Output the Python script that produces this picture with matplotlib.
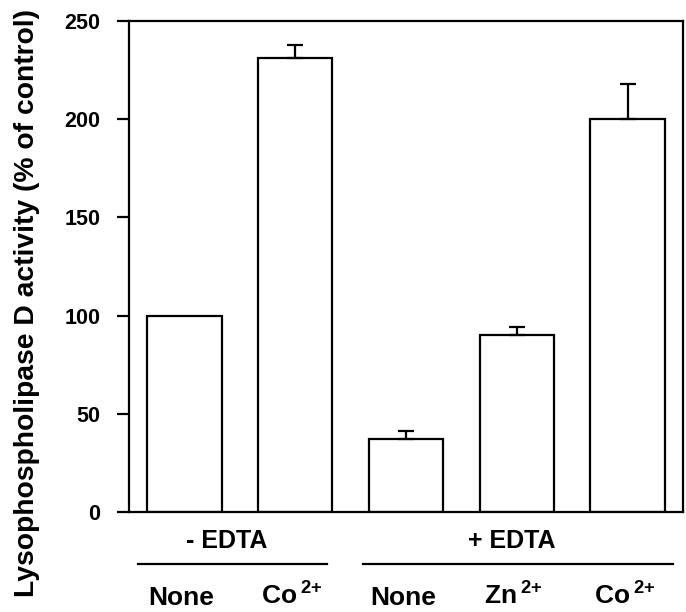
import matplotlib
matplotlib.use("Agg")
import matplotlib.pyplot as plt
from matplotlib.lines import Line2D

plt.rcParams['font.family'] = ['Liberation Sans', 'DejaVu Sans']
plt.rcParams['font.weight'] = 'bold'
plt.rcParams['mathtext.fontset'] = 'custom'
plt.rcParams['mathtext.rm'] = 'Liberation Sans:bold'
plt.rcParams['mathtext.it'] = 'Liberation Sans:bold'
plt.rcParams['mathtext.bf'] = 'Liberation Sans:bold'
plt.rcParams['mathtext.default'] = 'rm'

categories = ["None", r"Co$\,^{2{+}}$", "None", r"Zn$\,^{2{+}}$", r"Co$\,^{2{+}}$"]
values = [100, 231, 37, 90, 200]
errors = [0, 7, 4, 4, 18]
groups = ["- EDTA", "+ EDTA"]
yticks = [0, 50, 100, 150, 200, 250]

fig = plt.figure(figsize=(6.86, 6.12), dpi=100)
ax = fig.add_axes([129/686, 1 - 512/612, (683-129)/686, (512-21)/612])

x = list(range(len(values)))
ax.bar(x, values, width=0.67, facecolor='white', edgecolor='black', linewidth=1.6, zorder=2)
ex = [xi for xi, e in zip(x, errors) if e > 0]
ev = [v for v, e in zip(values, errors) if e > 0]
ee = [e for e in errors if e > 0]
ax.errorbar(ex, ev, yerr=[[0]*len(ee), ee], fmt='none', ecolor='black',
            elinewidth=1.6, capsize=6, capthick=1.6, zorder=3)

ax.set_xlim(-0.5, 4.5)
ax.set_ylim(0, 250)
ax.set_yticks(yticks)
ax.set_yticklabels([str(t) for t in yticks], fontsize=15.5, fontweight='bold')
ax.tick_params(axis='y', direction='out', length=8.5, width=1.6, pad=12)
ax.set_xticks([])
for s in ax.spines.values():
    s.set_linewidth(1.6)

fig.text(27/686, 1 - 303/612, "Lysophospholipase D activity (% of control)",
         rotation=90, ha='center', va='center', fontsize=20.3, fontweight='bold')

for xi, lab in zip(x, categories):
    ax.annotate(lab, xy=(xi, 0), xycoords=('data', 'axes fraction'),
                xytext=(-3*0.72, -93*0.72), textcoords='offset points',
                ha='center', va='baseline', fontsize=19, fontweight='bold')

line_spans = [(-0.42, 1.29), (1.61, 4.41)]
for g, (x0, x1) in zip(groups, line_spans):
    cx = (x0 + x1) / 2
    ax.annotate(g, xy=(cx, 0), xycoords=('data', 'axes fraction'),
                xytext=(-6*0.72, -36*0.72), textcoords='offset points',
                ha='center', va='baseline', fontsize=18, fontweight='bold')
    ln = Line2D([x0, x1], [-52/491, -52/491], transform=ax.get_xaxis_transform(),
                color='black', linewidth=1.6, clip_on=False)
    ax.add_line(ln)

fig.savefig("out.png", dpi=100)
